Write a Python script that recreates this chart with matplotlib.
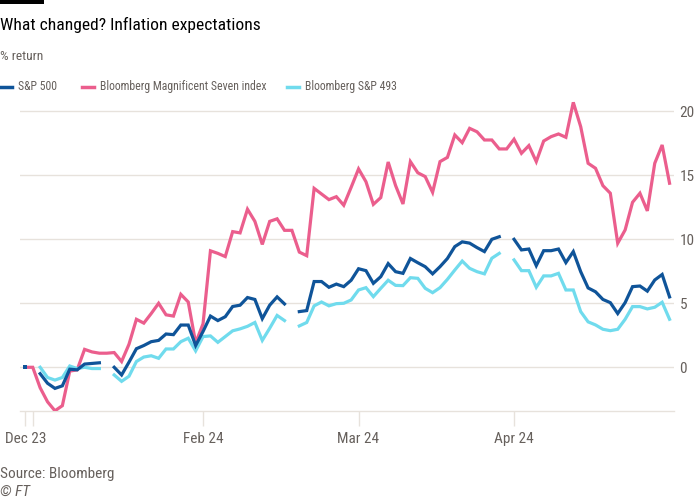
import numpy as np
import matplotlib.pyplot as plt
from matplotlib import font_manager
from matplotlib.lines import Line2D

nan = np.nan

# % return, one value per weekday from 29 Dec 2023 to 30 Apr 2024 (nan = market holiday)
sp500 = [0, nan, -0.5, -1.25, -1.65, -1.45, -0.15, -0.2, 0.25, 0.3,
         0.35, nan, 0.0, -0.6, 0.4, 1.45, 1.7, 2.0, 2.1, 2.6,
         2.55, 3.3, 3.3, 1.7, 2.8, 4.0, 3.65, 3.95, 4.75, 4.85,
         5.45, 5.3, 3.8, 4.85, 5.5, 4.95, nan, 4.35, 4.43, 6.7,
         6.7, 6.25, 6.5, 6.3, 6.8, 7.7, 7.55, 6.56, 7.08, 8.1,
         7.47, 7.34, 8.5, 8.17, 7.86, 7.3, 7.86, 8.5, 9.43, 9.8,
         9.7, 9.35, 9.04, 10.0, 10.2, nan, 10.0, 9.17, 9.24, 7.94,
         9.11, 9.11, 9.24, 8.18, 9.04, 7.47, 6.2, 5.9, 5.3, 5.05,
         4.2, 5.05, 6.3, 6.35, 5.95, 6.82, 7.25, 5.5]

mag7 = [0, 0, -1.6, -2.7, -3.4, -3.0, -0.3, -0.2, 1.4, 1.2,
        1.1, 1.1, 1.15, 0.45, 1.8, 3.75, 3.45, 4.2, 5.0, 4.1,
        4.0, 5.7, 5.1, 1.9, 3.4, 9.1, 8.9, 8.65, 10.6, 10.5,
        12.35, 11.4, 9.6, 11.4, 11.6, 10.7, 10.7, 9.0, 8.72, 13.98,
        13.54, 13.1, 13.33, 12.66, 14.06, 15.5, 14.5, 12.73, 13.26, 16.04,
        14.2, 12.76, 16.07, 15.2, 14.9, 13.67, 16.07, 16.4, 18.15, 17.55,
        18.67, 18.4, 17.76, 17.76, 17.06, 17.06, 17.82, 16.72, 17.32, 16.07,
        17.68, 18.02, 18.23, 17.97, 20.7, 18.8, 15.94, 15.55, 14.19, 13.6,
        9.69, 10.73, 12.89, 13.6, 12.22, 15.94, 17.37, 14.38]

sp493 = [0, nan, 0.0, -0.8, -1.0, -0.8, 0.1, -0.1, 0.0, -0.1,
         -0.1, nan, -0.6, -1.1, -0.7, 0.45, 0.8, 0.9, 0.7, 1.43,
         1.43, 2.0, 2.27, 1.28, 2.4, 2.45, 1.95, 2.4, 2.85, 3.0,
         3.2, 3.5, 2.1, 3.05, 4.05, 3.65, nan, 3.23, 3.5, 4.8,
         5.1, 4.8, 4.97, 5.0, 5.26, 6.04, 6.22, 5.52, 6.17, 6.8,
         6.4, 6.38, 7.0, 6.95, 6.17, 5.83, 6.22, 6.87, 7.6, 8.3,
         7.73, 7.47, 7.3, 8.52, 8.9, nan, 8.39, 7.55, 7.55, 6.25,
         7.14, 7.14, 7.34, 6.04, 6.04, 4.35, 3.55, 3.31, 2.97, 2.86,
         2.97, 3.75, 4.74, 4.74, 4.56, 4.69, 5.08, 3.75]

series_names = ["S&P 500", "Bloomberg Magnificent Seven index", "Bloomberg S&P 493"]
colors = ["#0f5499", "#eb5e8d", "#70dbed"]

# x ticks (weekday index) and their labels
tick_idx = [0, 1, 24, 45, 66]
tick_labels = ["Dec 23", "", "Feb 24", "Mar 24", "Apr 24"]
y_ticks = [0, 5, 10, 15, 20]

# FT's font is narrow: use a narrow face if there is one, else a smaller Roboto
names = {f.name for f in font_manager.fontManager.ttflist}
if "Liberation Sans Narrow" in names:
    font, k = "Liberation Sans Narrow", 1.0
elif "Roboto Condensed" in names:
    font, k = "Roboto Condensed", 1.0
elif "Roboto" in names:
    font, k = "Roboto", 0.86
else:
    font, k = "DejaVu Sans", 0.8
plt.rcParams["font.family"] = [font, "DejaVu Sans"]

grey = "#66605c"
grid = "#e7e2dc"

fig = plt.figure(figsize=(7, 5), dpi=100)
fig.patch.set_facecolor("white")
ax = fig.add_axes([20 / 700, 1 - 411.3 / 500, 654 / 700, 311.5 / 500])

x = np.arange(len(mag7))


def draw(vals, color, z):
    v = np.array(vals, dtype=float)
    ax.plot(x, v, color=color, lw=2.3, zorder=z, solid_joinstyle="miter")
    # single points between gaps would not show as a line
    prev = np.r_[nan, v[:-1]]
    nxt = np.r_[v[1:], nan]
    lone = ~np.isnan(v) & np.isnan(prev) & np.isnan(nxt)
    ax.plot(x[lone], v[lone], "s", color=color, ms=3.2, mew=0, zorder=z)


draw(mag7, colors[1], 3)
draw(sp493, colors[2], 4)
draw(sp500, colors[0], 5)

ax.set_xlim(-0.72, 87.6)
ax.set_ylim(-3.44, 20.9)

ax.set_yticks(y_ticks)
ax.yaxis.tick_right()
ax.tick_params(axis="y", length=0, pad=4, labelsize=11 * k, labelcolor=grey)
ax.grid(axis="y", color=grid, lw=1)
ax.set_axisbelow(True)

ax.set_xticks(tick_idx)
ax.set_xticklabels(tick_labels)
ax.tick_params(axis="x", length=11, width=1, color=grid, pad=4,
               labelsize=11 * k, labelcolor=grey)

for s in ["top", "left", "right"]:
    ax.spines[s].set_visible(False)
ax.spines["bottom"].set_color(grid)
ax.spines["bottom"].set_linewidth(1)

# header
fig.add_artist(plt.Rectangle((0, 1 - 4 / 500), 44 / 700, 4 / 500,
                             transform=fig.transFigure, color="black", lw=0))
fig.text(0, 1 - 25 / 500, "What changed? Inflation expectations",
         fontsize=12.6 * k, color="#000000", va="center", ha="left")
fig.text(0, 1 - 56 / 500, "% return", fontsize=9.7 * k, color=grey, va="center")

# legend
leg_y = 1 - 86.5 / 500
leg = [(0, 12, 18), (82, 94, 100), (287, 299, 305)]
for (x0, x1, xt), name, c in zip(leg, series_names, colors):
    fig.add_artist(Line2D([x0 / 700, x1 / 700], [leg_y, leg_y], color=c, lw=2.5,
                          transform=fig.transFigure))
    fig.text(xt / 700, leg_y, name, fontsize=8.5 * k, color=grey, va="center")

# footer
fig.text(0, 1 - 474 / 500, "Source: Bloomberg", fontsize=11 * k, color=grey, va="center")
fig.text(0, 1 - 492 / 500, "© FT", fontsize=11 * k, color=grey, va="center", style="italic")

fig.savefig("out.png", dpi=100, facecolor="white")
